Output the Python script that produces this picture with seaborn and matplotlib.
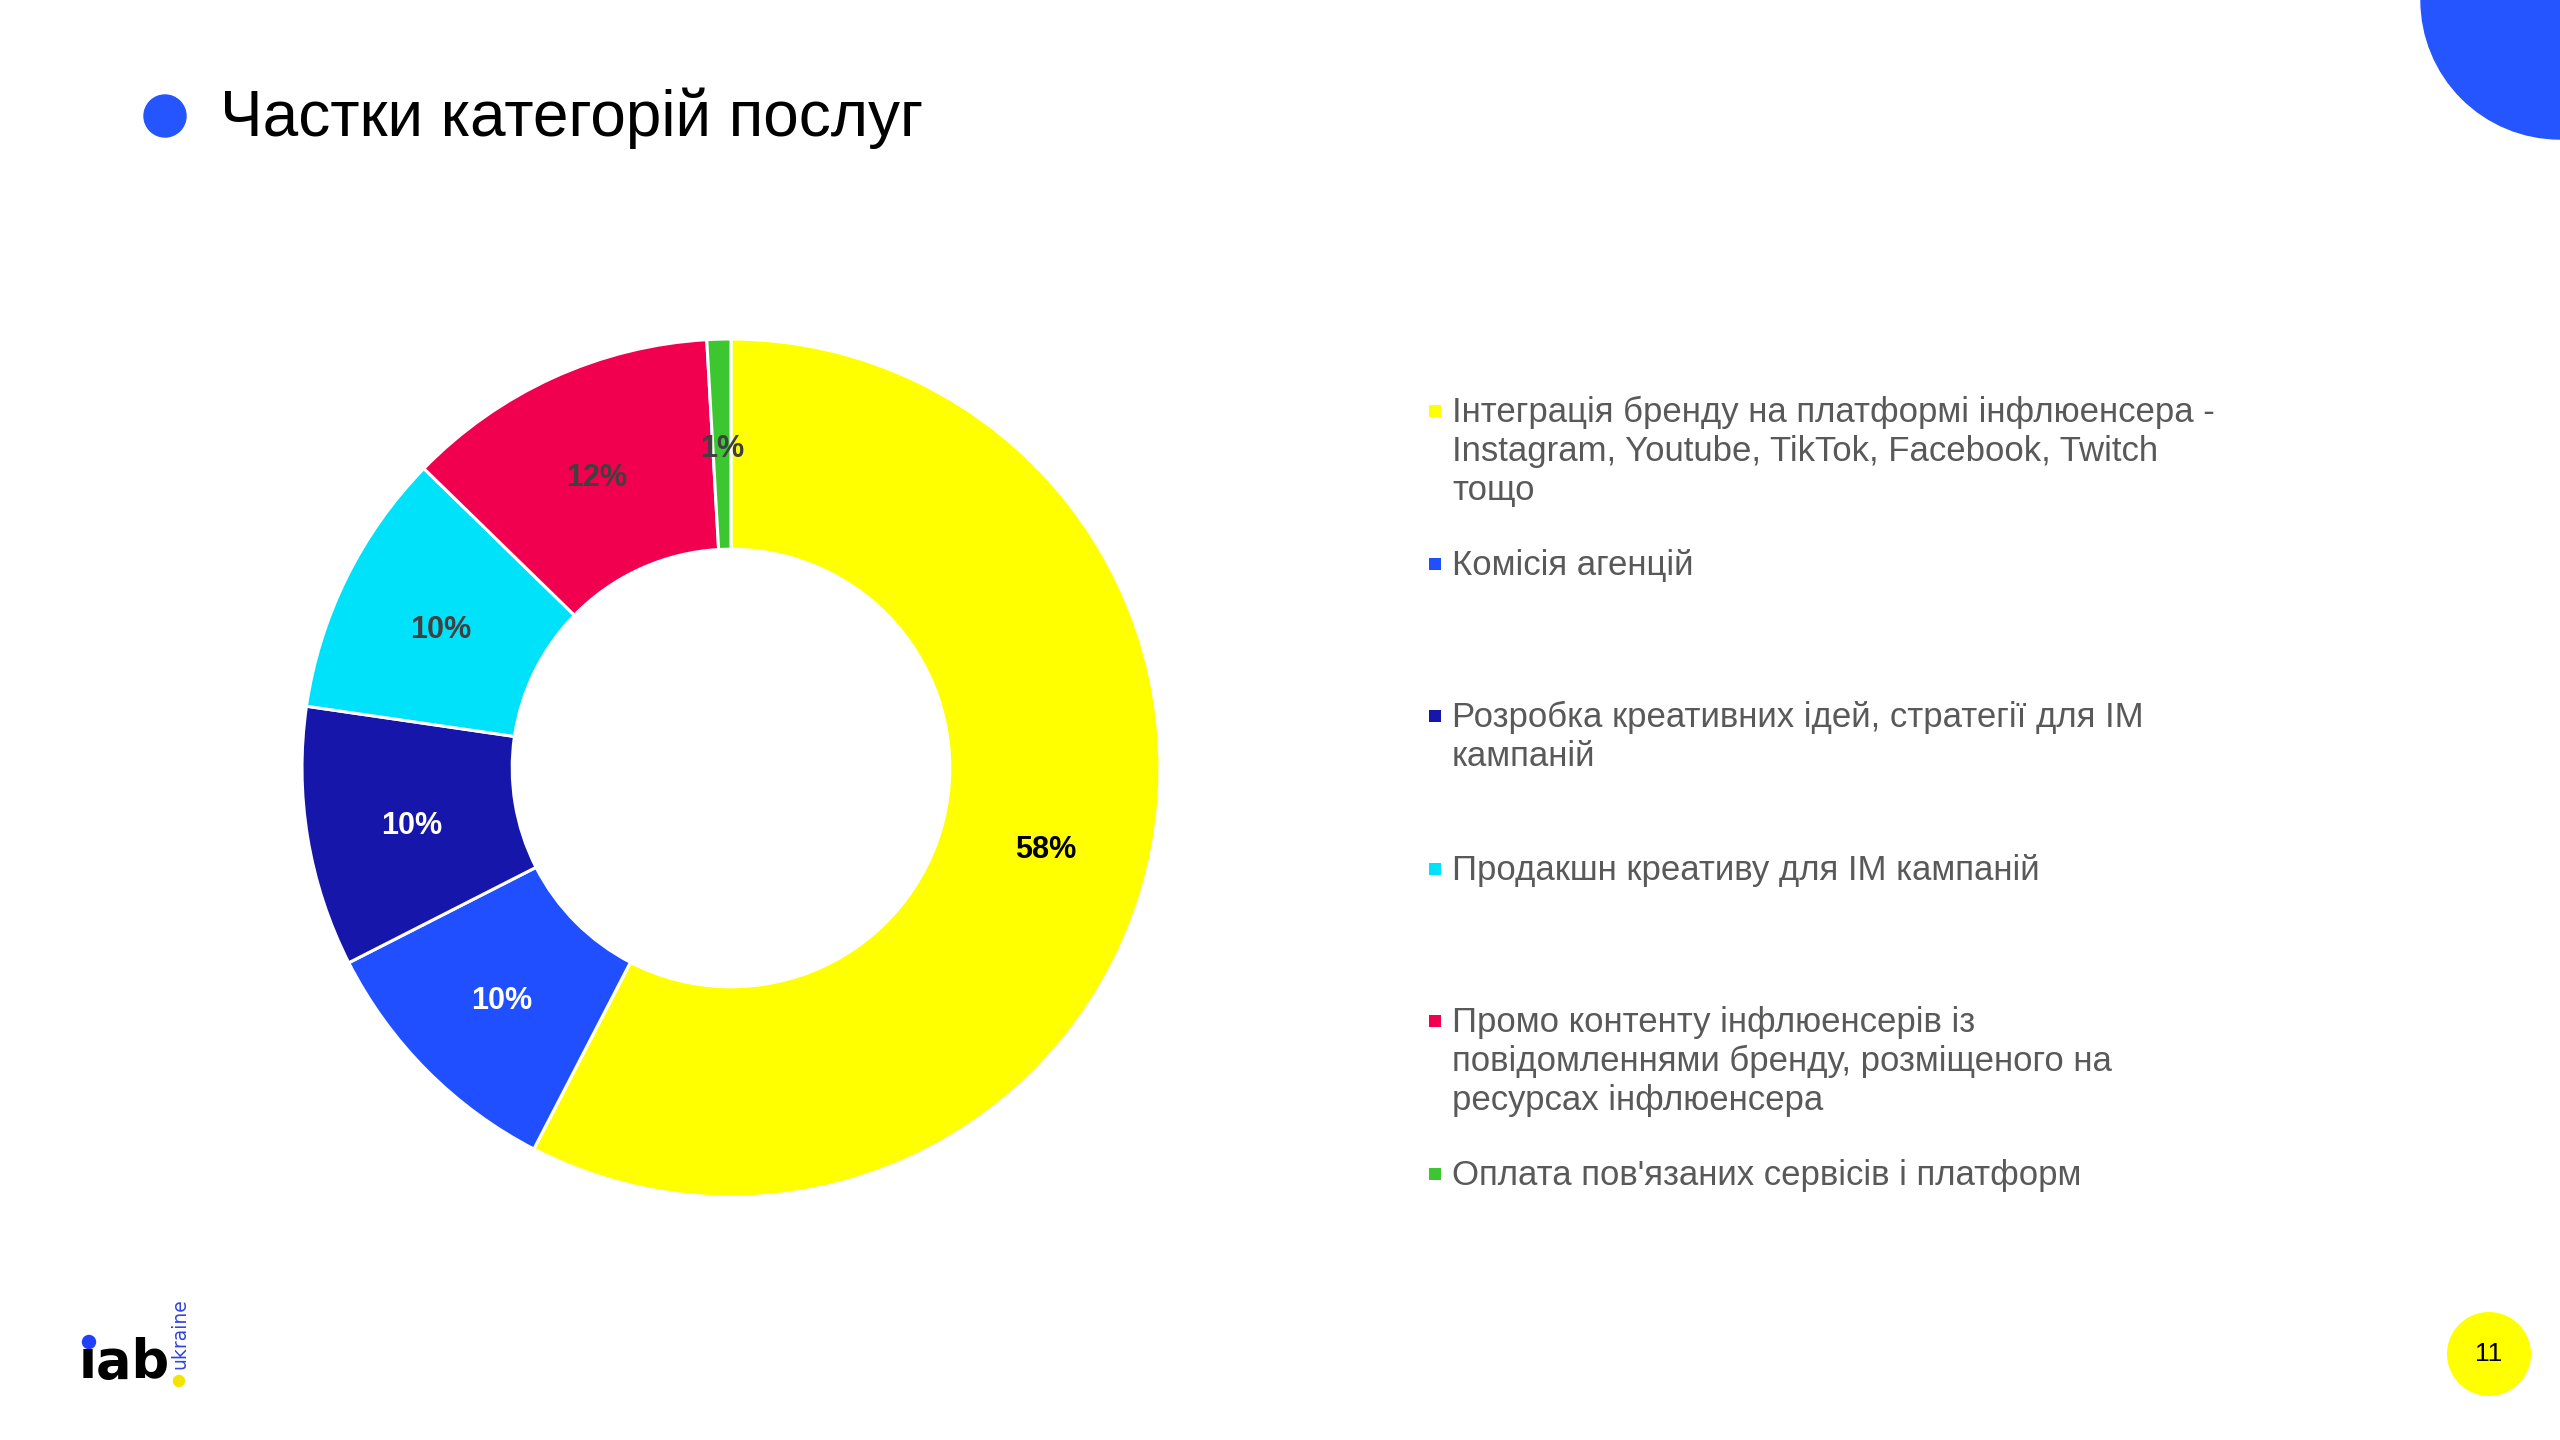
import matplotlib
matplotlib.use('Agg')
import matplotlib.pyplot as plt
from matplotlib.patches import Circle, Rectangle
import numpy as np
import seaborn as sns

sns.set_theme(style='white')
plt.rcParams['font.family'] = ['Liberation Sans', 'DejaVu Sans']

# дані діаграми
categories = [
    'Інтеграція бренду на платформі інфлюенсера -\nInstagram, Youtube, TikTok, Facebook, Twitch\nтощо',
    'Комісія агенцій',
    'Розробка креативних ідей, стратегії для ІМ\nкампаній',
    'Продакшн креативу для ІМ кампаній',
    'Промо контенту інфлюенсерів із\nповідомленнями бренду, розміщеного на\nресурсах інфлюенсера',
    "Оплата пов'язаних сервісів і платформ",
]
shares = [57.6, 9.9, 9.8, 10.0, 11.8, 0.9]
share_labels = ['58%', '10%', '10%', '10%', '12%', '1%']
colors = ['#FFFF00', '#1F4FFF', '#1616AA', '#00E2F9', '#F0004F', '#3CC62F']
label_colors = ['black', 'white', 'white', '#404040', '#404040', '#404040']

fig = plt.figure(figsize=(25.6, 14.4), dpi=100)
fig.patch.set_facecolor('white')

# фон у піксельних координатах
bg = fig.add_axes([0, 0, 1, 1])
bg.set_xlim(0, 2560)
bg.set_ylim(1440, 0)
bg.axis('off')

bg.add_patch(Circle((2560, 0), 139, color='#2455FF'))
bg.add_patch(Circle((165, 116), 21, color='#2455FF'))
bg.text(220, 118, 'Частки категорій послуг', fontsize=46, ha='left', va='center', color='black')

bg.add_patch(Circle((2489, 1354), 42, color='#FFFF00', lw=0))
bg.text(2489, 1354, '11', fontsize=19, ha='center', va='center', color='black')

# логотип
bg.text(79, 1378, 'ıab', fontsize=38, fontweight='bold', family=['DejaVu Sans'],
        ha='left', va='baseline', color='black')
bg.add_patch(Circle((89, 1342), 6.5, color='#2040FF'))
bg.text(180, 1369, 'ukraine', fontsize=13.5, rotation=90, ha='center', va='bottom',
        color='#3344DD', family=['DejaVu Sans'])
bg.add_patch(Circle((179, 1381), 5.5, color='#F2E600'))

# легенда
for i, (cat, col) in enumerate(zip(categories, colors)):
    yc = 411 + i * 152.6
    bg.add_patch(Rectangle((1429, yc - 6), 12, 12, color=col, lw=0))
    bg.text(1452, yc - 15, cat, fontsize=25, ha='left', va='top',
            color='#595959', linespacing=1.22)

# кільцева діаграма
R = 429
ax = fig.add_axes([(731 - R) / 2560, (1440 - 768 - R) / 1440, 2 * R / 2560, 2 * R / 1440])
wedges, _ = ax.pie(shares, colors=colors, startangle=90, counterclock=False,
                   wedgeprops=dict(width=0.49, edgecolor='white', linewidth=2.2))
ax.set_xlim(-1, 1)
ax.set_ylim(-1, 1)
ax.set_aspect('equal')
ax.axis('off')

for w, txt, tc in zip(wedges, share_labels, label_colors):
    ang = np.deg2rad((w.theta1 + w.theta2) / 2)
    ax.text(0.755 * np.cos(ang), 0.755 * np.sin(ang) - 0.012, txt, fontsize=22,
            fontweight='bold', ha='center', va='center', color=tc)

fig.savefig('out.png', dpi=100, facecolor='white')
